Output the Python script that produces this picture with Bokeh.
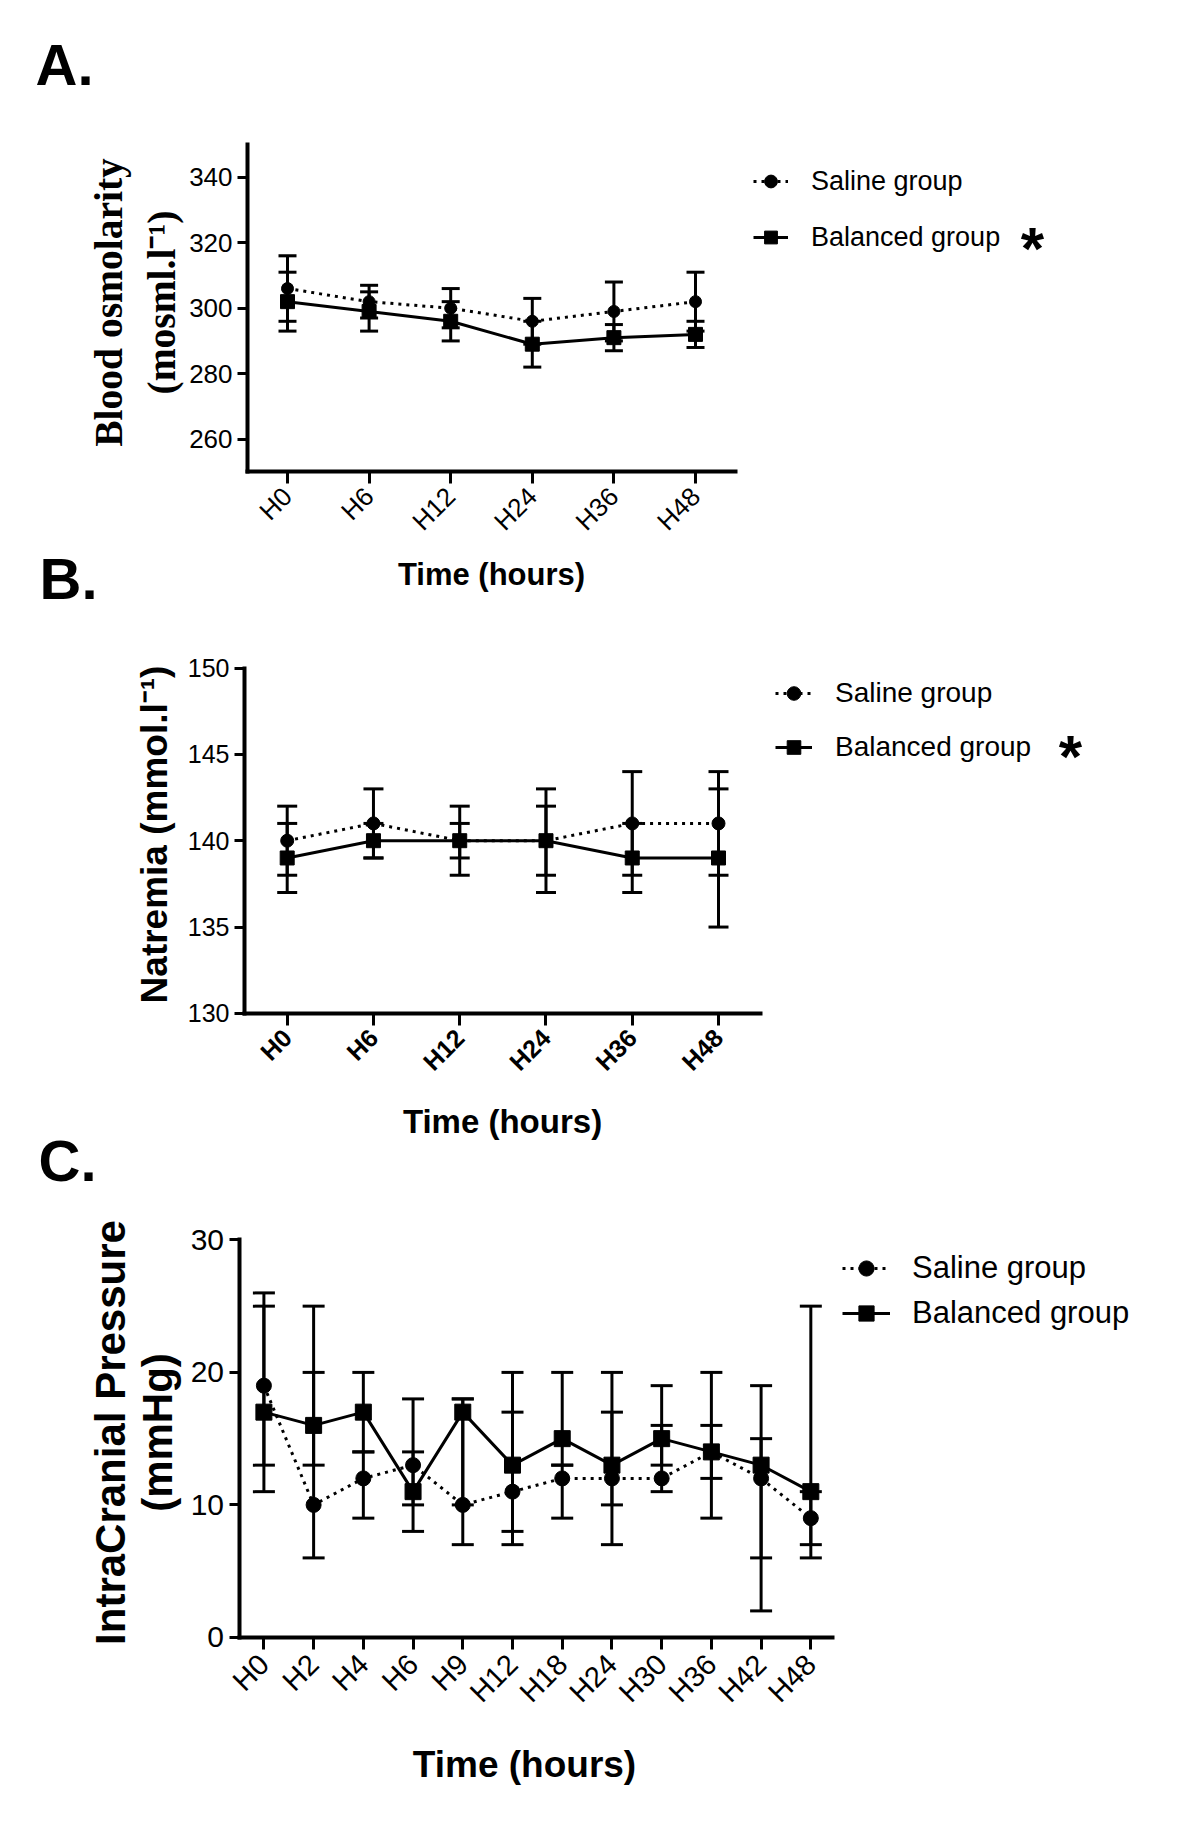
import math
from bokeh.plotting import figure
from bokeh.models import (ColumnDataSource, Range1d, FixedTicker, LinearAxis,
                          Legend, LegendItem, Label)
from bokeh.embed import file_html
from bokeh.resources import INLINE

# ---------------- data ----------------
A_times = ["H0", "H6", "H12", "H24", "H36", "H48"]
A_saline = [306, 302, 300, 296, 299, 302]
A_saline_lo = [296, 297, 294, 289, 290, 293]
A_saline_hi = [316, 307, 306, 303, 308, 311]
A_bal = [302, 299, 296, 289, 291, 292]
A_bal_lo = [293, 293, 290, 282, 287, 288]
A_bal_hi = [311, 305, 302, 296, 295, 296]
A_yticks = [260, 280, 300, 320, 340]

B_times = ["H0", "H6", "H12", "H24", "H36", "H48"]
B_saline = [140, 141, 140, 140, 141, 141]
B_saline_lo = [138, 139, 138, 137, 138, 138]
B_saline_hi = [142, 143, 142, 143, 144, 144]
B_bal = [139, 140, 140, 140, 139, 139]
B_bal_lo = [137, 139, 139, 138, 137, 135]
B_bal_hi = [141, 141, 141, 142, 141, 143]
B_yticks = [130, 135, 140, 145, 150]

C_times = ["H0", "H2", "H4", "H6", "H9", "H12", "H18", "H24", "H30", "H36", "H42", "H48"]
C_saline = [19, 10, 12, 13, 10, 11, 12, 12, 12, 14, 12, 9]
C_saline_lo = [13, 6, 9, 8, 7, 7, 9, 7, 11, 12, 2, 6]
C_saline_hi = [26, 20, 14, 18, 18, 17, 13, 17, 16, 16, 15, 11]
C_bal = [17, 16, 17, 11, 17, 13, 15, 13, 15, 14, 13, 11]
C_bal_lo = [11, 13, 14, 10, 10, 8, 13, 10, 13, 9, 6, 7]
C_bal_hi = [25, 25, 20, 14, 18, 20, 20, 20, 19, 20, 19, 25]
C_yticks = [0, 10, 20, 30]

SANS = "Liberation Sans"
SERIF = "Liberation Serif"

W, HC = 1184, 1840   # canvas size in px (frame covers the whole canvas)

# ---------------- panel geometry (pixel placement of each panel's scales) ----------------
# x: page_x = ax + bx * x ; y: page_y = cy - dy * y
GEO = {
    "A": dict(ax=287.0, bx=81.6, cy=176.8 + 3.2725 * 340, dy=3.2725,
              xb=(-0.49, 5.49), yb=(250, 350)),
    "B": dict(ax=286.7, bx=86.26, cy=667.5 + 17.27 * 150, dy=17.27,
              xb=(-0.495, 5.487), yb=(130, 150)),
    "C": dict(ax=263.4, bx=49.72, cy=1636.9, dy=13.25,
              xb=(-0.5, 11.436), yb=(0, 30)),
}

p = figure(width=W, height=HC, frame_width=W, frame_height=HC, min_border=0,
           output_backend="svg", toolbar_location=None, tools="",
           x_range=Range1d(0, W), y_range=Range1d(0, HC),
           x_axis_type=None, y_axis_type=None)
try:
    p.title_location = None
except Exception:
    p.title.text = ""
p.grid.visible = False
p.outline_line_color = None
p.background_fill_color = "white"
p.border_fill_color = "white"

p.extra_x_ranges = {k: Range1d(-g["ax"] / g["bx"], (W - g["ax"]) / g["bx"]) for k, g in GEO.items()}
p.extra_y_ranges = {k: Range1d((g["cy"] - HC) / g["dy"], g["cy"] / g["dy"]) for k, g in GEO.items()}


def style_axis(ax, label_size, label_style="normal"):
    ax.axis_line_width = 4
    ax.axis_line_color = "black"
    ax.axis_line_cap = "square"
    ax.major_tick_line_width = 3
    ax.major_tick_line_color = "black"
    ax.major_tick_in = 0
    ax.minor_tick_line_color = None
    ax.major_label_text_color = "black"
    ax.major_label_text_font = SANS
    ax.major_label_text_font_size = label_size
    ax.major_label_text_font_style = label_style


def draw_panel(key, times, sal, sal_lo, sal_hi, bal, bal_lo, bal_hi, yticks, cfg):
    g = GEO[key]
    kw = dict(x_range_name=key, y_range_name=key)
    xs = list(range(len(times)))

    # axes, pinned to the panel's corner
    xa = LinearAxis(fixed_location=g["yb"][0], bounds=g["xb"], ticker=FixedTicker(ticks=xs),
                    major_label_overrides={i: t for i, t in enumerate(times)},
                    major_label_orientation=math.pi / 4, **kw)
    style_axis(xa, cfg["xtf"], cfg["xtstyle"])
    xa.major_tick_out = 12
    xa.major_label_standoff = cfg["xls"]
    p.add_layout(xa, "below")
    ya = LinearAxis(fixed_location=g["xb"][0], bounds=g["yb"], ticker=FixedTicker(ticks=yticks), **kw)
    style_axis(ya, cfg["ytf"])
    ya.major_tick_out = 10
    ya.major_label_standoff = 5
    p.add_layout(ya, "left")

    # error bars, lines, markers
    src_s = ColumnDataSource(dict(x=xs, y=sal, lo=sal_lo, hi=sal_hi))
    src_b = ColumnDataSource(dict(x=xs, y=bal, lo=bal_lo, hi=bal_hi))
    for src in (src_s, src_b):
        p.segment(x0="x", y0="lo", x1="x", y1="hi", source=src, line_width=3,
                  line_color="black", **kw)
        for col in ("lo", "hi"):
            p.scatter(x="x", y=col, source=src, marker="dash", size=cfg["cap"],
                      line_width=3, line_color="black", **kw)
    ls = p.line("x", "y", source=src_s, line_width=3, line_color="black", line_dash="3 5", **kw)
    lb = p.line("x", "y", source=src_b, line_width=3, line_color="black", **kw)
    ms = p.scatter("x", "y", source=src_s, marker="circle", size=cfg["cs"], color="black", **kw)
    mb = p.scatter("x", "y", source=src_b, marker="square", size=cfg["ss"], color="black", **kw)

    leg = Legend(items=[LegendItem(label="Saline group", renderers=[ls, ms]),
                        LegendItem(label="Balanced group", renderers=[lb, mb])],
                 location=cfg["legloc"], orientation="vertical", padding=0, margin=0,
                 spacing=cfg["legsp"], glyph_width=cfg["gw"], glyph_height=cfg["gh"],
                 label_height=cfg["gh"], label_standoff=cfg["lstand"],
                 label_text_font=SANS, label_text_font_size=cfg["legf"],
                 label_text_color="black",
                 border_line_color=None, background_fill_alpha=0)
    p.add_layout(leg)


def text(txt, x, y, size, font=SANS, style="bold", align="left", baseline="alphabetic",
         angle=0.0, line_height=1.2):
    """x, y are page pixels from the top-left corner."""
    p.add_layout(Label(x=x, y=HC - y, x_units="screen", y_units="screen", text=txt,
                       text_font=font, text_font_style=style, text_font_size=size,
                       text_align=align, text_baseline=baseline, angle=angle,
                       text_line_height=line_height, text_color="black"))


cfgA = dict(ytf="26px", xtf="26px", xtstyle="normal", xls=8, cap=18, cs=12, ss=14,
            legloc=(753, HC - 253), legsp=24, gw=35, gh=32, lstand=23, legf="27px")
cfgB = dict(ytf="25px", xtf="25px", xtstyle="bold", xls=8, cap=20, cs=13, ss=14,
            legloc=(775, HC - 764), legsp=20, gw=37, gh=34, lstand=23, legf="28px")
cfgC = dict(ytf="30px", xtf="29px", xtstyle="normal", xls=10, cap=22, cs=15, ss=16,
            legloc=(842, HC - 1332), legsp=7, gw=48, gh=38, lstand=22, legf="31px")

draw_panel("A", A_times, A_saline, A_saline_lo, A_saline_hi, A_bal, A_bal_lo, A_bal_hi, A_yticks, cfgA)
draw_panel("B", B_times, B_saline, B_saline_lo, B_saline_hi, B_bal, B_bal_lo, B_bal_hi, B_yticks, cfgB)
draw_panel("C", C_times, C_saline, C_saline_lo, C_saline_hi, C_bal, C_bal_lo, C_bal_hi, C_yticks, cfgC)

# axis titles
text("Blood osmolarity\n(mosml.l\u207b\u00b9)", 135, 302, "39.5px", font=SERIF,
     align="center", baseline="middle", angle=math.pi / 2)
text("Time (hours)", 491, 574, "31px", align="center")
text("Natremia (mmol.l\u207b\u00b9)", 154, 834, "37px", align="center", baseline="middle",
     angle=math.pi / 2)
text("Time (hours)", 502, 1121, "33px", align="center")
text("IntraCranial Pressure\n(mmHg)", 133, 1432, "42px", align="center", baseline="middle",
     angle=math.pi / 2, line_height=1.0)
text("Time (hours)", 524, 1764, "37px", align="center")

# panel letters
text("A.", 35, 64, "58px")
text("B.", 39, 578, "58px")
text("C.", 38, 1160, "58px")

# significance asterisks
text("*", 1032, 248, "60px", align="center")
text("*", 1070, 756, "60px", align="center")

open("out.html", "w").write(file_html(p, INLINE))
